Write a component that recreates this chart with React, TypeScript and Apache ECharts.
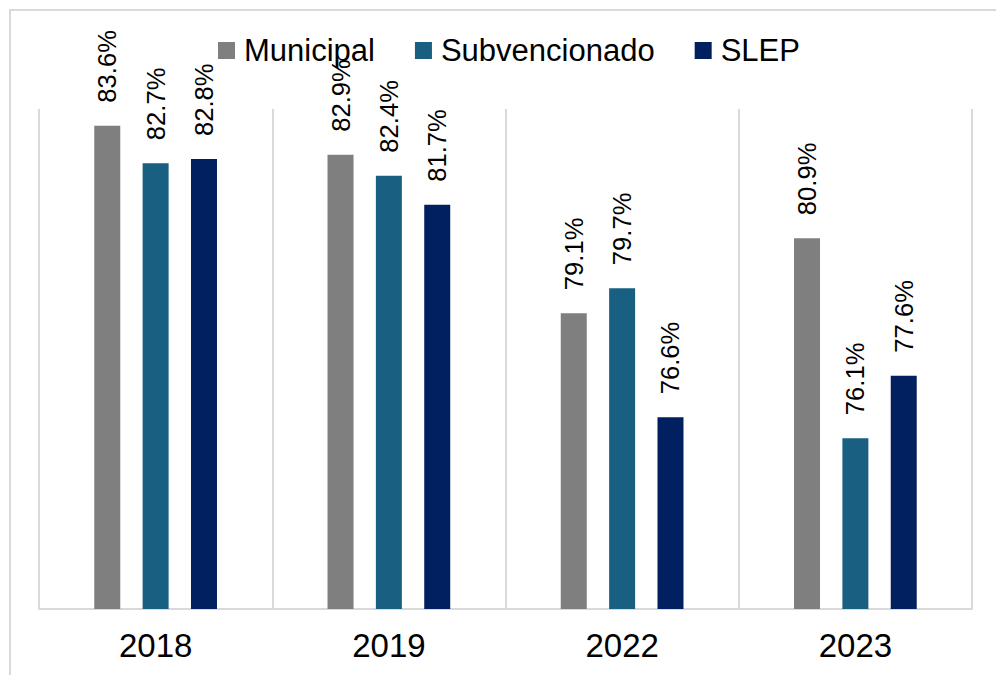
import React, { useEffect, useRef } from "react";
import * as echarts from "echarts";

const categories = ["2018", "2019", "2022", "2023"];
const seriesNames = ["Municipal", "Subvencionado", "SLEP"];
const municipal = [83.6, 82.9, 79.1, 80.9];
const subvencionado = [82.7, 82.4, 79.7, 76.1];
const slep = [82.8, 81.7, 76.6, 77.6];
const colors = ["#7f7f7f", "#185f82", "#00205f"];

const FONT = "'Liberation Sans', Arial, Helvetica, sans-serif";

export default function App() {
  const ref = useRef<HTMLDivElement>(null);

  useEffect(() => {
    document.body.style.margin = "0";
    if (!ref.current) return;
    const chart = echarts.init(ref.current, null, { renderer: "svg" });
    const values = [municipal, subvencionado, slep];
    const option = {
      animation: false,
      backgroundColor: "#ffffff",
      textStyle: { fontFamily: FONT },
      graphic: [
        {
          type: "rect",
          shape: { x: 10, y: 10, width: 1000, height: 700 },
          style: { fill: "none", stroke: "#d9d9d9", lineWidth: 2 },
          silent: true,
        },
      ],
      legend: {
        data: seriesNames,
        left: 218,
        top: 35,
        padding: 0,
        itemWidth: 17,
        itemHeight: 17,
        itemGap: 40,
        icon: "rect",
        textStyle: {
          fontFamily: FONT,
          fontSize: 31,
          color: "#000000",
          padding: [0, 0, 6, 4],
        },
      },
      grid: { left: 39, right: 24, top: 109, bottom: 66, containLabel: false },
      xAxis: {
        type: "category",
        data: categories,
        axisLine: { show: true, lineStyle: { color: "#d9d9d9", width: 2 } },
        axisTick: { show: false },
        splitLine: { show: true, lineStyle: { color: "#d9d9d9", width: 2 } },
        axisLabel: {
          fontFamily: FONT,
          fontSize: 33,
          color: "#000000",
          margin: 20,
        },
      },
      yAxis: {
        type: "value",
        min: 72,
        max: 84,
        show: false,
        splitLine: { show: false },
      },
      series: seriesNames.map((name, i) => ({
        name,
        type: "bar",
        data: values[i],
        barWidth: 26,
        barGap: "86%",
        itemStyle: { color: colors[i] },
        label: {
          show: true,
          position: "top",
          rotate: 90,
          align: "left",
          verticalAlign: "middle",
          distance: 20,
          offset: [3, 0],
          fontFamily: FONT,
          fontSize: 25.6,
          color: "#000000",
          formatter: (p: any) => Number(p.value).toFixed(1) + "%",
        },
      })),
    };
    chart.setOption(option as any);
    return () => chart.dispose();
  }, []);

  return (
    <div
      ref={ref}
      style={{ position: "fixed", left: 0, top: 0, width: 996, height: 675 }}
    />
  );
}
